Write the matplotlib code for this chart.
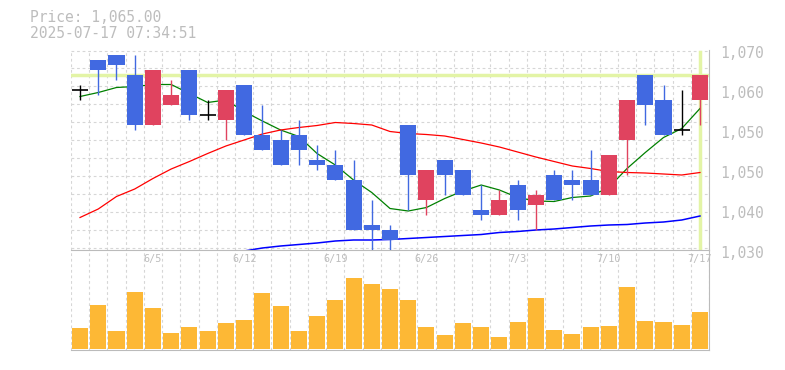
import numpy as np
import matplotlib
matplotlib.use("Agg")
import matplotlib.pyplot as plt
import matplotlib.transforms as mtrans

# --- 1. DATA ---
dates = ["5/30", "6/2", "6/3", "6/4", "6/5", "6/6", "6/9", "6/10", "6/11", "6/12",
         "6/13", "6/16", "6/17", "6/18", "6/19", "6/20", "6/23", "6/24", "6/25", "6/26",
         "6/27", "6/30", "7/1", "7/2", "7/3", "7/4", "7/7", "7/8", "7/9", "7/10",
         "7/11", "7/14", "7/15", "7/16", "7/17"]

opens = [1062, 1068, 1069, 1065, 1055, 1059, 1066, 1057, 1056, 1063,
         1053, 1052, 1053, 1048, 1047, 1044, 1035, 1034, 1055, 1040,
         1048, 1046, 1038, 1037, 1043, 1039, 1045, 1044, 1044, 1041,
         1052, 1065, 1060, 1054, 1060]
highs = [1063, 1068, 1069, 1069, 1066, 1064, 1066, 1060, 1062, 1063,
         1059, 1054, 1056, 1051, 1050, 1048, 1040, 1035, 1055, 1046,
         1048, 1046, 1043, 1042, 1044, 1042, 1046, 1046, 1050, 1049,
         1060, 1065, 1063, 1062, 1065]
lows = [1060, 1061, 1064, 1054, 1055, 1059, 1056, 1056, 1052, 1053,
        1050, 1047, 1047, 1046, 1044, 1034, 1030, 1030, 1038, 1037,
        1041, 1041, 1036, 1037, 1036, 1034, 1040, 1040, 1041, 1041,
        1045, 1055, 1053, 1053, 1055]
closes = [1062, 1066, 1067, 1055, 1066, 1061, 1057, 1057, 1062, 1053,
          1050, 1047, 1050, 1047, 1044, 1034, 1034, 1032, 1045, 1046,
          1045, 1041, 1037, 1040, 1038, 1041, 1040, 1043, 1041, 1049,
          1060, 1059, 1053, 1054, 1065]

# moving averages as drawn (short / mid / long)
ma_short = [1060.7, 1061.5, 1062.5, 1062.7, 1063.1, 1063.1, 1061.3, 1059.5, 1060.0, 1057.7,
            1055.8, 1054.0, 1052.7, 1049.3, 1047.0, 1044.0, 1041.5, 1038.3, 1037.8, 1038.5,
            1040.3, 1041.8, 1043.0, 1042.0, 1040.5, 1039.8, 1039.7, 1040.5, 1040.8, 1042.5,
            1046.3, 1049.5, 1052.5, 1054.3, 1058.3]
ma_mid = [1036.5, 1038.2, 1040.7, 1042.2, 1044.3, 1046.2, 1047.7, 1049.3, 1050.8, 1052.0,
          1053.2, 1054.0, 1054.5, 1054.9, 1055.5, 1055.3, 1055.0, 1053.7, 1053.3, 1053.1,
          1052.8, 1052.1, 1051.4, 1050.6, 1049.6, 1048.6, 1047.7, 1046.8, 1046.3, 1045.7,
          1045.5, 1045.4, 1045.2, 1045.0, 1045.5]
ma_long_start = 9
ma_long = [1029.8, 1030.4, 1030.8, 1031.1, 1031.4, 1031.8, 1032.0, 1032.0, 1032.1,
           1032.3, 1032.5, 1032.7, 1032.9, 1033.1, 1033.5, 1033.7, 1034.0, 1034.2,
           1034.5, 1034.8, 1035.0, 1035.1, 1035.4, 1035.6, 1036.0, 1036.8]

volumes = [203, 443, 173, 573, 413, 153, 213, 173, 253, 283,
           563, 433, 173, 333, 493, 713, 653, 603, 493, 213,
           133, 253, 213, 113, 263, 513, 183, 143, 213, 223,
           623, 273, 263, 233, 373]

timestamp = "2025-07-17 07:34:51"
price_ticks = [1070, 1062, 1054, 1046, 1038, 1030]

# --- 2. STYLE ---
UP = "#e0435f"
DOWN = "#4169e1"
FLAT = "black"
LIME = "#e3f4a6"
GRID = "#d6d6d6"
TXT = "#bdbdbd"
SPINE = "#bbbbbb"
MONO = "DejaVu Sans Mono"

n = len(closes)
x = np.arange(n)
o = np.array(opens, dtype=float)
c = np.array(closes, dtype=float)

fig = plt.figure(figsize=(7.85, 3.70), dpi=100)
axv = fig.add_axes([70.9 / 785, 20.5 / 370, 638.2 / 785, 99.5 / 370])
ax = fig.add_axes([70.9 / 785, 120 / 370, 638.2 / 785, 200 / 370])
axv.patch.set_visible(False)
ax.patch.set_visible(False)

# --- 3. PRICE PANEL ---
ax.set_xlim(-0.5, n - 0.5)
ax.set_ylim(1030, 1070)

# grid: square cells, one column per day
ax.set_xticks(np.arange(-0.5, n, 1), minor=True)
ax.set_yticks(np.arange(1069.9, 1030, -3.6), minor=True)
ax.grid(which="minor", color=GRID, linestyle=(0, (2.5, 2.5)), linewidth=0.8)
ax.set_axisbelow(True)

# current price markers
ax.axhline(closes[-1], color=LIME, linewidth=2.5, zorder=1.5)
ax.axvline(x[-1], color=LIME, linewidth=2.5, zorder=1.5, ymax=0.99)

# moving averages under the candles
ax.plot(x, ma_short, color="#008000", linewidth=0.9, zorder=2)
ax.plot(x, ma_mid, color="#ff0000", linewidth=0.9, zorder=2)
ax.plot(x[ma_long_start:], ma_long, color="#0000ff", linewidth=1.1, zorder=2)

# candles
cols = [UP if cc > oo else DOWN if cc < oo else FLAT for oo, cc in zip(o, c)]
ax.vlines(x, lows, highs, colors=cols, linewidth=1.0, zorder=3)
body = np.abs(c - o)
mask = body > 0
ax.bar(x[mask], body[mask], bottom=np.minimum(o, c)[mask], width=0.88,
       color=[cols[i] for i in x[mask]], zorder=4)
ax.hlines(c[~mask], x[~mask] - 0.44, x[~mask] + 0.44, colors=FLAT, linewidth=1.2, zorder=4)

# axis look
for s in ["left", "top"]:
    ax.spines[s].set_visible(False)
for s in ["right", "bottom"]:
    ax.spines[s].set_color(SPINE)
ax.set_yticks([])
ax.tick_params(which="both", length=0)
ax.set_xticks(x[4::5])
ax.set_xticklabels([dates[i] for i in x[4::5]], fontsize=7.3, color=TXT, family=MONO)
ax.tick_params(axis="x", pad=3)

# price labels on the right (rounded to tens, sitting a little low)
lab_tr = mtrans.blended_transform_factory(ax.transAxes, ax.transData) + \
    mtrans.ScaledTranslation(11 / 100, -3 / 100, fig.dpi_scale_trans)
for v in price_ticks:
    ax.text(1.0, v, f"{round(v, -1):,.0f}", transform=lab_tr, ha="left", va="center",
            fontsize=10.5, color=TXT, family=MONO)

# --- 4. VOLUME PANEL ---
axv.bar(x, volumes, width=0.88, color="#fdb835", zorder=2)
axv.set_xlim(-0.5, n - 0.5)
axv.set_ylim(-8, 990)
axv.set_xticks(np.arange(-0.5, n, 1), minor=True)
axv.grid(which="minor", axis="x", color=GRID, linestyle=(0, (2.5, 2.5)), linewidth=0.8)
axv.set_axisbelow(True)
for s in ["left", "top"]:
    axv.spines[s].set_visible(False)
for s in ["right", "bottom"]:
    axv.spines[s].set_color(SPINE)
axv.set_yticks([])
axv.set_xticks([])
axv.tick_params(which="both", length=0, labelbottom=False)

# --- 5. HEADER ---
fig.text(30 / 785, 1 - 18 / 370, f"Price: {closes[-1]:,.2f}", fontsize=10.5,
         color=TXT, family=MONO, va="center")
fig.text(30 / 785, 1 - 33 / 370, timestamp, fontsize=10.5, color=TXT, family=MONO, va="center")

fig.savefig("out.png", dpi=100)
